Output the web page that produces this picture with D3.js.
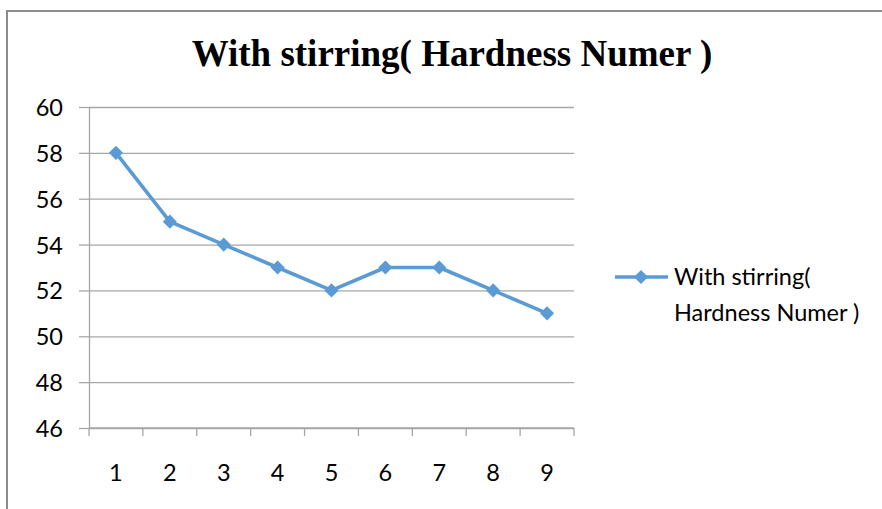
<!DOCTYPE html>
<html>
<head>
<meta charset="utf-8">
<script src="https://cdn.jsdelivr.net/npm/d3@7"></script>
<style>
  html, body { margin: 0; padding: 0; background: #fff; }
  svg { display: block; }
</style>
</head>
<body>
<svg id="chart" width="882" height="509"></svg>
<script>
const categories = ["1", "2", "3", "4", "5", "6", "7", "8", "9"];
const hardness = [58, 55, 54, 53, 52, 53, 53, 52, 51];
const yTicks = [46, 48, 50, 52, 54, 56, 58, 60];
const chartTitle = "With stirring( Hardness Numer )";
const legendLines = ["With stirring(", "Hardness Numer )"];

const svg = d3.select("#chart");
const W = 882, H = 509;
const plot = { left: 89, right: 574, top: 107, bottom: 428 };
const lineColor = "#5B9BD5";
const gridColor = "#A6A6A6";
const labelFont = "Lato, 'Open Sans', sans-serif";
const labelSize = 23.5;

// outer frame (top and left edges)
svg.append("line").attr("x1", 7).attr("x2", W).attr("y1", 11).attr("y2", 11)
  .attr("stroke", "#8C8C8C").attr("stroke-width", 2);
svg.append("line").attr("x1", 7).attr("x2", 7).attr("y1", 10).attr("y2", H)
  .attr("stroke", "#8C8C8C").attr("stroke-width", 2);

// title
svg.append("text")
  .attr("x", 452).attr("y", 66)
  .attr("text-anchor", "middle")
  .attr("font-family", "'Liberation Serif', 'Times New Roman', serif")
  .attr("font-weight", "bold")
  .attr("font-size", 37)
  .text(chartTitle);

const x = d3.scaleBand().domain(categories).range([plot.left, plot.right]);
const y = d3.scaleLinear().domain([46, 60]).range([plot.bottom, plot.top]);

// horizontal gridlines
svg.append("g")
  .attr("transform", `translate(${plot.left},0)`)
  .call(d3.axisLeft(y).tickValues(yTicks).tickSize(-(plot.right - plot.left)).tickSizeOuter(0).tickFormat(""))
  .call(g => g.select(".domain").remove())
  .call(g => g.selectAll("line").attr("stroke", gridColor).attr("stroke-width", 1.3));

// y axis with labels
const yAxis = svg.append("g")
  .attr("transform", `translate(${plot.left},0)`)
  .call(d3.axisLeft(y).tickValues(yTicks).tickSize(10).tickSizeOuter(0).tickPadding(16));
yAxis.select(".domain").attr("stroke", gridColor).attr("stroke-width", 1.3);
yAxis.selectAll("line").attr("stroke", gridColor).attr("stroke-width", 1.3);
yAxis.selectAll("text").attr("font-family", labelFont).attr("font-size", labelSize).attr("fill", "#000").attr("dy", "0.36em");

// x axis: ticks at category boundaries, labels centred in bands
const bounds = d3.range(categories.length + 1).map(i => plot.left + i * x.bandwidth());
const xg = svg.append("g");
xg.append("line").attr("x1", plot.left).attr("x2", plot.right)
  .attr("y1", plot.bottom).attr("y2", plot.bottom)
  .attr("stroke", gridColor).attr("stroke-width", 1.3);
xg.selectAll("line.tick").data(bounds).join("line").attr("class", "tick")
  .attr("x1", d => d).attr("x2", d => d)
  .attr("y1", plot.bottom).attr("y2", plot.bottom + 8)
  .attr("stroke", gridColor).attr("stroke-width", 1.3);
xg.selectAll("text").data(categories).join("text")
  .attr("x", d => x(d) + x.bandwidth() / 2)
  .attr("y", 481)
  .attr("text-anchor", "middle")
  .attr("font-family", labelFont).attr("font-size", labelSize)
  .text(d => d);

// series line
const pts = categories.map((c, i) => ({ c, v: hardness[i] }));
svg.append("path")
  .datum(pts)
  .attr("fill", "none")
  .attr("stroke", lineColor)
  .attr("stroke-width", 3.6)
  .attr("stroke-linejoin", "round")
  .attr("d", d3.line().x(d => x(d.c) + x.bandwidth() / 2).y(d => y(d.v)));

// diamond markers
const diamond = d3.symbol().type(d3.symbolSquare).size(100);
svg.selectAll("path.marker").data(pts).join("path").attr("class", "marker")
  .attr("d", diamond)
  .attr("transform", d => `translate(${x(d.c) + x.bandwidth() / 2},${y(d.v)}) rotate(45)`)
  .attr("fill", lineColor);

// legend
const lg = svg.append("g");
lg.append("line").attr("x1", 615).attr("x2", 668).attr("y1", 277).attr("y2", 277)
  .attr("stroke", lineColor).attr("stroke-width", 3.6);
lg.append("path").attr("d", diamond)
  .attr("transform", "translate(641,277) rotate(45)").attr("fill", lineColor);
lg.selectAll("text").data(legendLines).join("text")
  .attr("x", 674)
  .attr("y", (d, i) => 285 + i * 36)
  .attr("font-family", labelFont).attr("font-size", labelSize)
  .text(d => d);
</script>
</body>
</html>
